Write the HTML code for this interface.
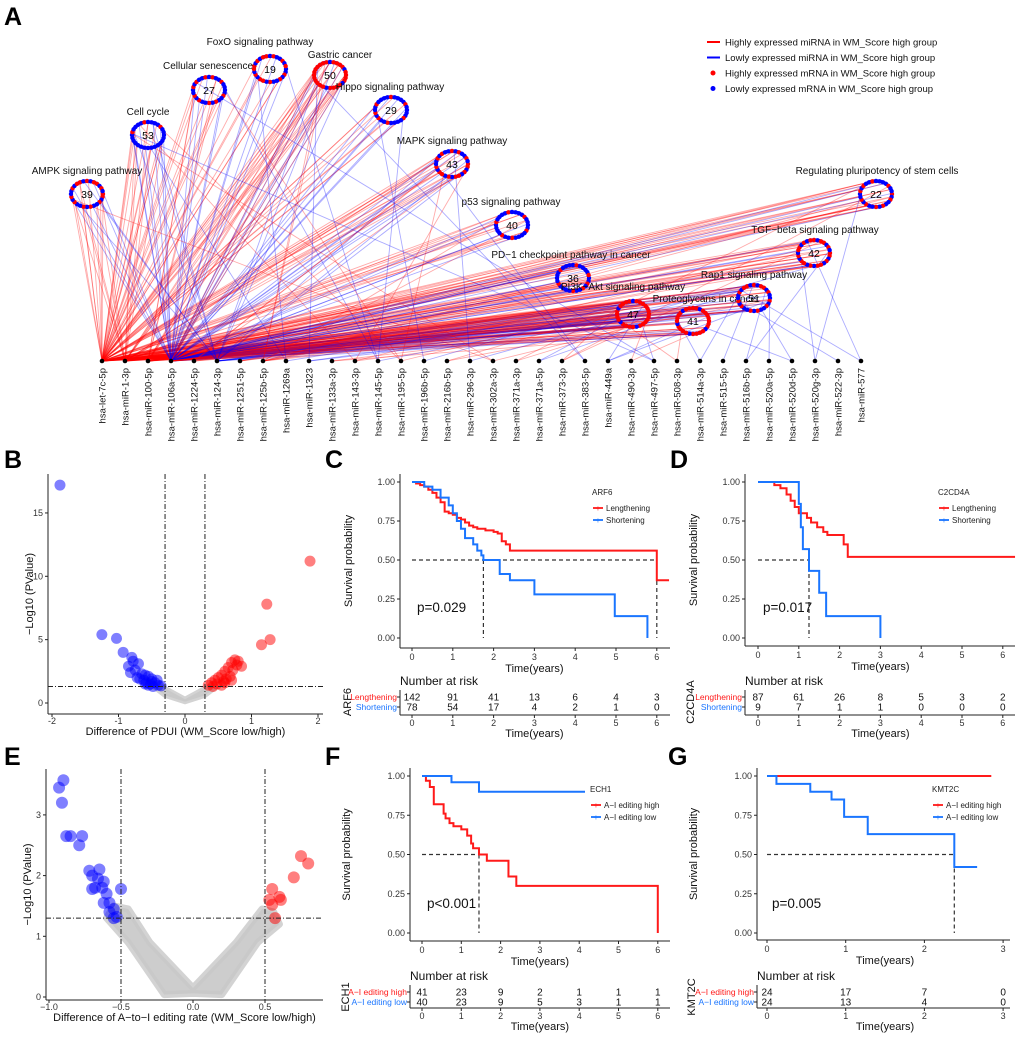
<!DOCTYPE html>
<html><head><meta charset="utf-8">
<style>
html,body{margin:0;padding:0;background:#fff;}
svg{display:block;font-family:"Liberation Sans",Arial,sans-serif;}
</style></head>
<body>
<svg id="fig" width="1020" height="1037" viewBox="0 0 1020 1037" xmlns="http://www.w3.org/2000/svg"></svg>
<script>
// ---------- Panel A data ----------
const mirnas=["hsa-let-7c-5p","hsa-miR-1-3p","hsa-miR-100-5p","hsa-miR-106a-5p","hsa-miR-1224-5p","hsa-miR-124-3p","hsa-miR-1251-5p","hsa-miR-125b-5p","hsa-miR-1269a","hsa-miR-1323","hsa-miR-133a-3p","hsa-miR-143-3p","hsa-miR-145-5p","hsa-miR-195-5p","hsa-miR-196b-5p","hsa-miR-216b-5p","hsa-miR-296-3p","hsa-miR-302a-3p","hsa-miR-371a-3p","hsa-miR-371a-5p","hsa-miR-373-3p","hsa-miR-383-5p","hsa-miR-449a","hsa-miR-490-3p","hsa-miR-497-5p","hsa-miR-508-3p","hsa-miR-514a-3p","hsa-miR-515-5p","hsa-miR-516b-5p","hsa-miR-520a-5p","hsa-miR-520d-5p","hsa-miR-520g-3p","hsa-miR-522-3p","hsa-miR-577"];
const pathNames=["AMPK signaling pathway","Cell cycle","Cellular senescence","FoxO signaling pathway","Gastric cancer","Hippo signaling pathway","MAPK signaling pathway","p53 signaling pathway","PD\u22121 checkpoint pathway in cancer","PI3K\u2212Akt signaling pathway","Proteoglycans in cancer","Rap1 signaling pathway","TGF\u2212beta signaling pathway","Regulating pluripotency of stem cells"];
const pathCounts=[39,53,27,19,50,29,43,40,36,47,41,51,42,22];
const pathRedFrac=[0.5,0.1,0.35,0.5,0.85,0.25,0.5,0.2,0.25,0.85,0.8,0.45,0.6,0.35];
// edges: [miRNA index, pathway index, number of genes, colour r/b]
const edges=[
[0,0,8,'r'],[0,1,10,'r'],[0,2,8,'r'],[0,3,6,'r'],[0,4,10,'r'],[0,5,8,'r'],[0,6,10,'r'],[0,7,8,'r'],[0,8,8,'r'],[0,9,12,'r'],[0,10,10,'r'],[0,11,10,'r'],[0,12,10,'r'],[0,13,8,'r'],
[1,0,5,'r'],[1,1,5,'r'],[1,4,6,'r'],[1,6,6,'r'],[1,9,8,'r'],[1,11,6,'r'],[1,12,6,'r'],[1,13,6,'r'],[1,7,4,'r'],[1,10,5,'r'],
[2,4,5,'r'],[2,9,6,'r'],[2,12,6,'r'],[2,13,6,'r'],[2,2,4,'r'],[2,10,5,'r'],[2,11,5,'r'],
[3,1,7,'b'],[3,2,5,'b'],[3,3,5,'b'],[3,4,6,'b'],[3,5,6,'b'],[3,6,6,'b'],[3,7,5,'b'],[3,8,6,'b'],[3,9,7,'b'],[3,10,6,'b'],[3,11,7,'b'],[3,12,6,'b'],[3,13,5,'b'],[3,0,5,'b'],
[3,9,5,'r'],[3,11,5,'r'],[3,4,4,'r'],[3,10,4,'r'],
[4,6,3,'r'],[4,9,3,'r'],[5,0,3,'b'],[5,1,3,'b'],[5,4,3,'b'],[5,6,3,'b'],[5,9,3,'b'],[5,10,3,'b'],[5,11,3,'b'],
[6,9,2,'r'],[6,12,2,'r'],[7,4,2,'r'],[7,7,2,'r'],[7,9,3,'r'],[7,12,2,'r'],[7,13,2,'r'],
[8,1,1,'b'],[8,3,1,'b'],[8,9,1,'b'],[9,4,1,'b'],[9,9,1,'b'],[9,11,1,'b'],
[10,9,1,'r'],[10,10,1,'r'],[11,1,1,'r'],[11,6,1,'r'],[11,9,1,'r'],[11,12,1,'r'],
[12,2,1,'b'],[12,3,1,'b'],[12,5,1,'b'],[12,11,1,'b'],[13,1,1,'r'],[13,2,1,'r'],[13,6,1,'r'],[13,9,1,'r'],
[14,5,1,'b'],[14,9,1,'b'],[15,9,1,'r'],[15,11,1,'r'],[16,6,1,'b'],[16,12,1,'b'],[17,0,1,'r'],[17,1,1,'r'],[17,9,1,'r'],
[18,13,1,'r'],[18,9,1,'r'],[19,9,1,'b'],[19,11,1,'b'],[20,9,1,'r'],[20,12,1,'r'],[20,13,1,'r'],[21,4,1,'b'],[21,6,1,'b'],
[22,9,1,'b'],[22,10,1,'b'],[22,11,1,'b'],[23,9,1,'r'],[23,10,1,'r'],[24,1,1,'b'],[24,2,1,'b'],[24,9,1,'b'],[25,9,1,'r'],[25,10,1,'r'],
[26,11,1,'b'],[26,10,1,'b'],[27,11,1,'b'],[28,11,1,'b'],[28,12,1,'b'],[29,11,1,'b'],[30,10,1,'b'],[30,11,1,'b'],[31,13,1,'b'],[31,12,1,'b'],[32,11,1,'b'],[33,11,1,'b'],[33,12,1,'b']
];
// ---------- Panel B data ----------
const bBlue=[[-1.88,17.2],[-1.25,5.4],[-1.03,5.1],[-0.93,4.0],[-0.8,3.6],[-0.78,3.3],[-0.85,2.9],[-0.7,3.1],[-0.75,2.6],[-0.65,2.3],[-0.6,2.2],[-0.55,2.1],[-0.5,1.9],[-0.62,1.8],[-0.58,1.6],[-0.52,1.5],[-0.45,1.6],[-0.4,1.4],[-0.48,1.3],[-0.68,1.9],[-0.72,2.0],[-0.82,2.4],[-0.42,1.8],[-0.55,1.4],[-0.36,1.35],[-0.6,1.5],[-0.5,1.7]];
const bRed=[[1.88,11.2],[1.23,7.8],[1.28,5.0],[1.15,4.6],[0.85,2.9],[0.75,3.4],[0.7,3.2],[0.65,2.8],[0.6,2.5],[0.55,2.2],[0.5,2.0],[0.45,1.8],[0.4,1.6],[0.35,1.4],[0.6,1.6],[0.68,2.1],[0.72,2.6],[0.78,3.0],[0.55,1.4],[0.48,1.5],[0.62,1.9],[0.8,3.3],[0.7,1.8],[0.42,1.3],[0.58,1.7]];
const bGrey=[[0,0.1],[-0.3,0.6],[-0.45,1.2],[-0.35,1.3],[0,0.3],[0.35,1.3],[0.45,1.2],[0.3,0.6]];
const bXTicks=[-2,-1,0,1,2];
const bYTicks=[0,5,10,15];
// ---------- Panel E data ----------
const eBlue=[[-0.93,3.45],[-0.9,3.57],[-0.91,3.2],[-0.88,2.65],[-0.85,2.65],[-0.77,2.65],[-0.79,2.5],[-0.72,2.08],[-0.65,2.1],[-0.7,2.0],[-0.68,1.8],[-0.7,1.78],[-0.63,1.8],[-0.6,1.7],[-0.62,1.55],[-0.58,1.55],[-0.55,1.45],[-0.58,1.4],[-0.53,1.32],[-0.55,1.3],[-0.5,1.78],[-0.62,1.9],[-0.66,1.95]];
const eRed=[[0.75,2.32],[0.8,2.2],[0.7,1.97],[0.55,1.78],[0.6,1.65],[0.61,1.6],[0.53,1.6],[0.55,1.52],[0.57,1.3]];
const eGrey=[[0,0.06],[-0.2,0.04],[-0.45,0.9],[-0.6,1.3],[-0.55,1.5],[-0.45,1.45],[-0.3,0.9],[0,0.15],[0.3,0.9],[0.48,1.45],[0.56,1.4],[0.6,1.2],[0.45,0.9],[0.2,0.04]];
const eXTicks=[-1.0,-0.5,0.0,0.5];
const eYTicks=[0,1,2,3];
// ---------- KM data ----------
const cRed=[[0,1],[0.1,0.99],[0.2,0.98],[0.3,0.97],[0.4,0.95],[0.5,0.93],[0.6,0.9],[0.7,0.87],[0.8,0.81],[0.9,0.8],[1.0,0.79],[1.1,0.77],[1.2,0.76],[1.3,0.74],[1.4,0.72],[1.5,0.71],[1.6,0.7],[1.8,0.69],[2.0,0.68],[2.1,0.67],[2.2,0.62],[2.3,0.6],[2.4,0.56],[6.0,0.37],[6.3,0.37]];
const cBlue=[[0,1],[0.3,0.97],[0.5,0.95],[0.7,0.9],[0.9,0.85],[1.0,0.8],[1.1,0.75],[1.2,0.7],[1.3,0.64],[1.5,0.6],[1.6,0.56],[1.7,0.53],[1.75,0.5],[2.15,0.41],[2.4,0.37],[3.0,0.28],[4.97,0.14],[5.77,0.0],[5.77,0.0]];
const cRisk=[[142,91,41,13,6,4,3],[78,54,17,4,2,1,0]];
const dRed=[[0,1],[0.4,0.98],[0.55,0.96],[0.7,0.92],[0.8,0.88],[0.9,0.84],[1.0,0.8],[1.2,0.77],[1.3,0.74],[1.45,0.71],[1.6,0.68],[1.7,0.66],[2.1,0.6],[2.2,0.52],[6.3,0.52]];
const dBlue=[[0,1],[1.0,0.86],[1.05,0.71],[1.1,0.57],[1.25,0.43],[1.5,0.29],[1.67,0.14],[3.0,0],[3.0,0]];
const dRisk=[[87,61,26,8,5,3,2],[9,7,1,1,0,0,0]];
const fRed=[[0,1],[0.1,0.97],[0.2,0.93],[0.3,0.82],[0.55,0.76],[0.6,0.73],[0.7,0.7],[0.8,0.68],[1.0,0.66],[1.15,0.62],[1.25,0.57],[1.3,0.54],[1.45,0.5],[1.65,0.46],[2.2,0.36],[2.4,0.3],[6.0,0],[6.0,0]];
const fBlue=[[0,1],[0.75,0.96],[1.45,0.9],[6.3,0.9]];
const fRisk=[[41,23,9,2,1,1,1],[40,23,9,5,3,1,1]];
const gRed=[[0,1],[2.85,1]];
const gBlue=[[0,1],[0.12,0.95],[0.55,0.9],[0.82,0.85],[0.98,0.74],[1.28,0.63],[2.38,0.42],[2.67,0.42]];
const gRisk=[[24,17,7,0],[24,13,4,0]];
const survTicks=[0,0.25,0.5,0.75,1];

const svg=document.getElementById('fig');
const NS='http://www.w3.org/2000/svg';
function mk(tag,attrs,parent){const e=document.createElementNS(NS,tag);for(const k in attrs)e.setAttribute(k,attrs[k]);(parent||svg).appendChild(e);return e;}
function tx(x,y,s,size,attrs,parent){const a=Object.assign({x:x,y:y,'font-size':size,fill:'#000'},attrs||{});const e=mk('text',a,parent);e.textContent=s;return e;}
const RED='#ff0000',BLUE='#0000ff',KRED='#ff1a1a',KBLUE='#1a75ff';

// ---------- Panel letters ----------
[['A',4,25],['B',4,468],['C',325,468],['D',670,468],['E',4,765],['F',325,765],['G',668,765]].forEach(p=>{
 const t=tx(p[1],p[2],p[0],25,{'font-weight':'bold'});
 
 
});

// ---------- Panel A ----------
const gA=mk('g',{});


const pathX=[87,148,209,270,330,391,452,512,573,633,693,754,814,876];
const pathY=[194,135,90,69,75,110,164,225,278,314,321,298,253,194];
const labX=[87,148,208,260,340,390,452,511,571,623,706,754,815,877];
const labY=[174,115,69,45,58,90,144,205,258,290,302,278,233,174];
const mirX=i=>102+i*23, nodeY=361;
const gEdges=mk('g',{},gA);


edges.forEach((ed,ei)=>{
 const [mi,pi,n,c]=ed;
 for(let k=0;k<n;k++){
  const ang=(k*2.4+mi*0.9+pi*0.5)%(Math.PI*2);
  const x2=pathX[pi]+16*Math.cos(ang), y2=pathY[pi]+13*Math.sin(ang);
  const l=mk('line',{x1:mirX(mi),y1:nodeY,x2:x2,y2:y2,stroke:c==='r'?RED:BLUE,'stroke-opacity':0.33,'stroke-width':0.9},gEdges);
  
  
 }
});
pathNames.forEach((nmv,i)=>{
 const g=mk('g',{},gA);
 
 
 mk('ellipse',{cx:pathX[i],cy:pathY[i],rx:16,ry:13,fill:'none',stroke:BLUE,'stroke-width':3.5},g);
 const N=28;
 for(let k=0;k<N;k++){
  const a=k/N*Math.PI*2;
  const red=((k*11+i*5)%N)/N<pathRedFrac[i];
  mk('circle',{cx:pathX[i]+16*Math.cos(a),cy:pathY[i]+13*Math.sin(a),r:2.2,fill:red?RED:BLUE},g);
 }
 tx(pathX[i],pathY[i]+4,String(pathCounts[i]),10.5,{'text-anchor':'middle'},g);
 const lb=tx(labX[i],labY[i],nmv,10,{'text-anchor':'middle',fill:'#111'},gA);
 
 
});
mirnas.forEach((m,i)=>{
 const d=mk('circle',{cx:mirX(i),cy:nodeY,r:2.3,fill:'#000'},gA);
 
 
 const t=tx(0,0,m,9.5,{'text-anchor':'end',transform:`translate(${mirX(i)+3.5},368) rotate(-90)`,fill:'#111'},gA);
 
 
});
// legend A
const legA=mk('g',{},gA);


const legItems=[['line',RED,'Highly expressed miRNA in WM_Score high group'],['line',BLUE,'Lowly expressed miRNA in WM_Score high group'],['dot',RED,'Highly expressed mRNA in WM_Score high group'],['dot',BLUE,'Lowly expressed mRNA in WM_Score high group']];
legItems.forEach((it,i)=>{
 const y=42+i*15.5;
 if(it[0]==='line') mk('line',{x1:707,y1:y,x2:720,y2:y,stroke:it[1],'stroke-width':2},legA);
 else mk('circle',{cx:713,cy:y,r:2.5,fill:it[1]},legA);
 const t=tx(725,y+3.5,it[2],9.5,{fill:'#111'},legA);
 
 
});

// ---------- Volcano ----------
function volcano(o){
 const g=mk('g',{});
 
 
 const X=v=>o.xa+(v-o.xv0)*o.xs, Y=v=>o.y0-v*o.ys;
 const pts=o.grey.map(p=>X(p[0])+','+Y(p[1])).join(' ');
 const gp=mk('polygon',{points:pts,fill:'#c8c8c8',stroke:'#c8c8c8','stroke-width':o.gsw,'stroke-linejoin':'round','fill-opacity':0.9,'stroke-opacity':0.8},g);
 
 
 o.blue.forEach(p=>{
  const c=mk('circle',{cx:X(p[0]),cy:Y(p[1]),r:o.r,fill:'#0000ff','fill-opacity':0.5},g);
  
  
 });
 o.red.forEach(p=>{
  const c=mk('circle',{cx:X(p[0]),cy:Y(p[1]),r:o.r,fill:'#ff0000','fill-opacity':0.5},g);
  
  
 });
 [-o.vth,o.vth].forEach(v=>mk('line',{x1:X(v),x2:X(v),y1:o.top,y2:o.axY,stroke:'#222','stroke-dasharray':'5,2,1,2','stroke-width':1},g));
 mk('line',{x1:o.axX,x2:o.right,y1:Y(1.3),y2:Y(1.3),stroke:'#222','stroke-dasharray':'5,2,1,2','stroke-width':1},g);
 mk('line',{x1:o.axX,x2:o.axX,y1:o.top,y2:o.axY,stroke:'#222','stroke-width':1},g);
 mk('line',{x1:o.axX,x2:o.right,y1:o.axY,y2:o.axY,stroke:'#222','stroke-width':1},g);
 o.xt.forEach((v,i)=>{
  mk('line',{x1:X(v),x2:X(v),y1:o.axY,y2:o.axY+3,stroke:'#222'},g);
  const t=tx(X(v),o.axY+10,o.xtl[i],9,{'text-anchor':'middle',fill:'#333'},g);
  
  
 });
 o.yt.forEach(v=>{
  mk('line',{x1:o.axX-3,x2:o.axX,y1:Y(v),y2:Y(v),stroke:'#222'},g);
  const t=tx(o.axX-5,Y(v)+3,String(v),9,{'text-anchor':'end',fill:'#333'},g);
  
  
 });
 const xt=tx((o.axX+o.right)/2,o.xtitleY,o.xtitle,11,{'text-anchor':'middle',fill:'#111'},g);
 
 
 const yt=tx(0,0,'\u2212Log10 (PValue)',11,{'text-anchor':'middle',transform:`translate(${o.axX-15},${(o.top+o.axY)/2}) rotate(-90)`,fill:'#111'},g);
 
 
}
volcano({name:'volcano-pdui',xa:52,xv0:-2,xs:66.5,y0:703,ys:12.67,axX:48,axY:714,top:474,right:323,r:5.5,vth:0.3,gsw:5,
 blue:bBlue,red:bRed,grey:bGrey,xt:bXTicks,xtl:bXTicks.map(String),yt:bYTicks,xtitle:'Difference of PDUI (WM_Score low/high)',xtitleY:735});
volcano({name:'volcano-editing',xa:49,xv0:-1,xs:144,y0:997,ys:60.7,axX:46,axY:1000,top:769,right:323,r:6,vth:0.5,gsw:7,
 blue:eBlue,red:eRed,grey:eGrey,xt:eXTicks,xtl:['\u22121.0','\u22120.5','0.0','0.5'],yt:eYTicks,xtitle:'Difference of A\u2212to\u2212I editing rate (WM_Score low/high)',xtitleY:1021});

// ---------- KM ----------
function km(o){
 const g=mk('g',{});
 
 
 const X=t=>o.x0+t*o.xs, Y=s=>o.y0-s*(o.y0-o.y1);
 const curves=[[o.red,KRED],[o.blue,KBLUE]];
 mk('line',{x1:X(0),x2:X(o.medH),y1:Y(0.5),y2:Y(0.5),stroke:'#333','stroke-dasharray':'4,3','stroke-width':1.2},g);
 o.medV.forEach(m=>mk('line',{x1:X(m),x2:X(m),y1:Y(0.5),y2:Y(0),stroke:'#333','stroke-dasharray':'4,3','stroke-width':1.2},g));
 curves.forEach((cv,ci)=>{
  const d=cv[0];let p='M'+X(d[0][0])+' '+Y(d[0][1]);
  for(let i=1;i<d.length;i++){p+=' H'+X(d[i][0])+' V'+Y(d[i][1]);}
  const path=mk('path',{d:p,fill:'none',stroke:cv[1],'stroke-width':2},g);
  
  
 });
 if(o.legBg) mk('rect',{x:o.legX-5,y:o.legY-9,width:85,height:38,fill:'#fff'},g);
 const lg=mk('g',{},g);
 
 
 tx(o.legX,o.legY,o.varName,8,{fill:'#222'},lg);
 o.groups.forEach((gn,i)=>{
  const y=o.legY+13+i*12;
  mk('line',{x1:o.legX+1,x2:o.legX+11,y1:y,y2:y,stroke:i===0?KRED:KBLUE,'stroke-width':1.8},lg);
  tx(o.legX+6,y+3,'+',8,{'text-anchor':'middle',fill:i===0?KRED:KBLUE},lg);
  const t=tx(o.legX+14,y+3,gn,8,{fill:'#222'},lg);
  
  
 });
 mk('line',{x1:o.axX,x2:o.axX,y1:o.top,y2:o.axY,stroke:'#222'},g);
 mk('line',{x1:o.axX,x2:o.right,y1:o.axY,y2:o.axY,stroke:'#222'},g);
 survTicks.forEach(s=>{
  mk('line',{x1:o.axX-3,x2:o.axX,y1:Y(s),y2:Y(s),stroke:'#222'},g);
  const t=tx(o.axX-5,Y(s)+3,s.toFixed(2),9,{'text-anchor':'end',fill:'#333'},g);
  
  
 });
 const times=o.risk[0].map((_,i)=>i);
 times.forEach(t=>{
  mk('line',{x1:X(t),x2:X(t),y1:o.axY,y2:o.axY+3,stroke:'#222'},g);
  const l=tx(X(t),o.axY+12,String(t),9,{'text-anchor':'middle',fill:'#333'},g);
  
  
 });
 const xt=tx(X(times.length-1)/2+o.x0/2,o.axY+24,'Time(years)',11,{'text-anchor':'middle',fill:'#111'},g);
 
 
 const yt=tx(0,0,'Survival probability',11,{'text-anchor':'middle',transform:`translate(${o.ytX},${(o.top+o.axY)/2}) rotate(-90)`,fill:'#111'},g);
 
 
 const pv=tx(o.pX,o.pY,o.pText,13.5,{fill:'#111'},g);
 
 
 const rt=mk('g',{},g);
 
 
 tx(o.axX,o.nrY+4,'Number at risk',12,{fill:'#111'},rt);
 mk('line',{x1:o.axX,x2:o.axX,y1:o.rowY[0]-7,y2:o.tlY,stroke:'#222'},rt);
 mk('line',{x1:o.axX,x2:o.right,y1:o.tlY,y2:o.tlY,stroke:'#222'},rt);
 o.groups.forEach((gn,i)=>{
  tx(o.axX-3,o.rowY[i]+3,gn,8.5,{'text-anchor':'end',fill:i===0?KRED:KBLUE},rt);
  mk('line',{x1:o.axX-3,x2:o.axX,y1:o.rowY[i],y2:o.rowY[i],stroke:'#222'},rt);
  o.risk[i].forEach((n,j)=>{
   const c=tx(X(times[j]),o.rowY[i]+3.5,String(n),10,{'text-anchor':'middle',fill:'#111'},rt);
   
   
  });
 });
 times.forEach(t=>{
  mk('line',{x1:X(t),x2:X(t),y1:o.tlY,y2:o.tlY+3,stroke:'#222'},rt);
  tx(X(t),o.tlY+11,String(t),9,{'text-anchor':'middle',fill:'#333'},rt);
 });
 tx(X(times.length-1)/2+o.x0/2,o.tlY+22,'Time(years)',11,{'text-anchor':'middle',fill:'#111'},rt);
 tx(0,0,o.varName,11,{'text-anchor':'middle',transform:`translate(${o.varX},${(o.rowY[0]+o.rowY[1])/2}) rotate(-90)`,fill:'#111'},rt);
}
km({name:'km-arf6',x0:412,xs:40.8,y1:482,y0:638,axX:400,top:474,axY:648,right:670,red:cRed,blue:cBlue,risk:cRisk,medH:6.0,medV:[1.75,6.0],
 varName:'ARF6',groups:['Lengthening','Shortening'],legX:592,legY:495,ytX:352,varX:351,pX:417,pY:612,pText:'p=0.029',nrY:681,rowY:[697,707],tlY:715});
km({name:'km-c2cd4a',x0:758,xs:40.8,y1:482,y0:638,axX:745,top:474,axY:646,right:1015,red:dRed,blue:dBlue,risk:dRisk,medH:1.25,medV:[1.25],
 varName:'C2CD4A',groups:['Lengthening','Shortening'],legX:938,legY:495,ytX:697,varX:694,pX:763,pY:612,pText:'p=0.017',nrY:681,rowY:[697,707],tlY:715});
km({name:'km-ech1',x0:422,xs:39.3,y1:776,y0:933,axX:410,top:768,axY:941,right:670,red:fRed,blue:fBlue,risk:fRisk,medH:1.45,medV:[1.45],legBg:true,
 varName:'ECH1',groups:['A\u2212I editing high','A\u2212I editing low'],legX:590,legY:792,ytX:350,varX:349,pX:427,pY:908,pText:'p<0.001',nrY:976,rowY:[992,1002],tlY:1008});
km({name:'km-kmt2c',x0:767,xs:78.7,y1:776,y0:933,axX:757,top:768,axY:940,right:1010,red:gRed,blue:gBlue,risk:gRisk,medH:2.38,medV:[2.38],
 varName:'KMT2C',groups:['A\u2212I editing high','A\u2212I editing low'],legX:932,legY:792,ytX:697,varX:695,pX:772,pY:908,pText:'p=0.005',nrY:976,rowY:[992,1002],tlY:1008});
</script>
</body></html>
